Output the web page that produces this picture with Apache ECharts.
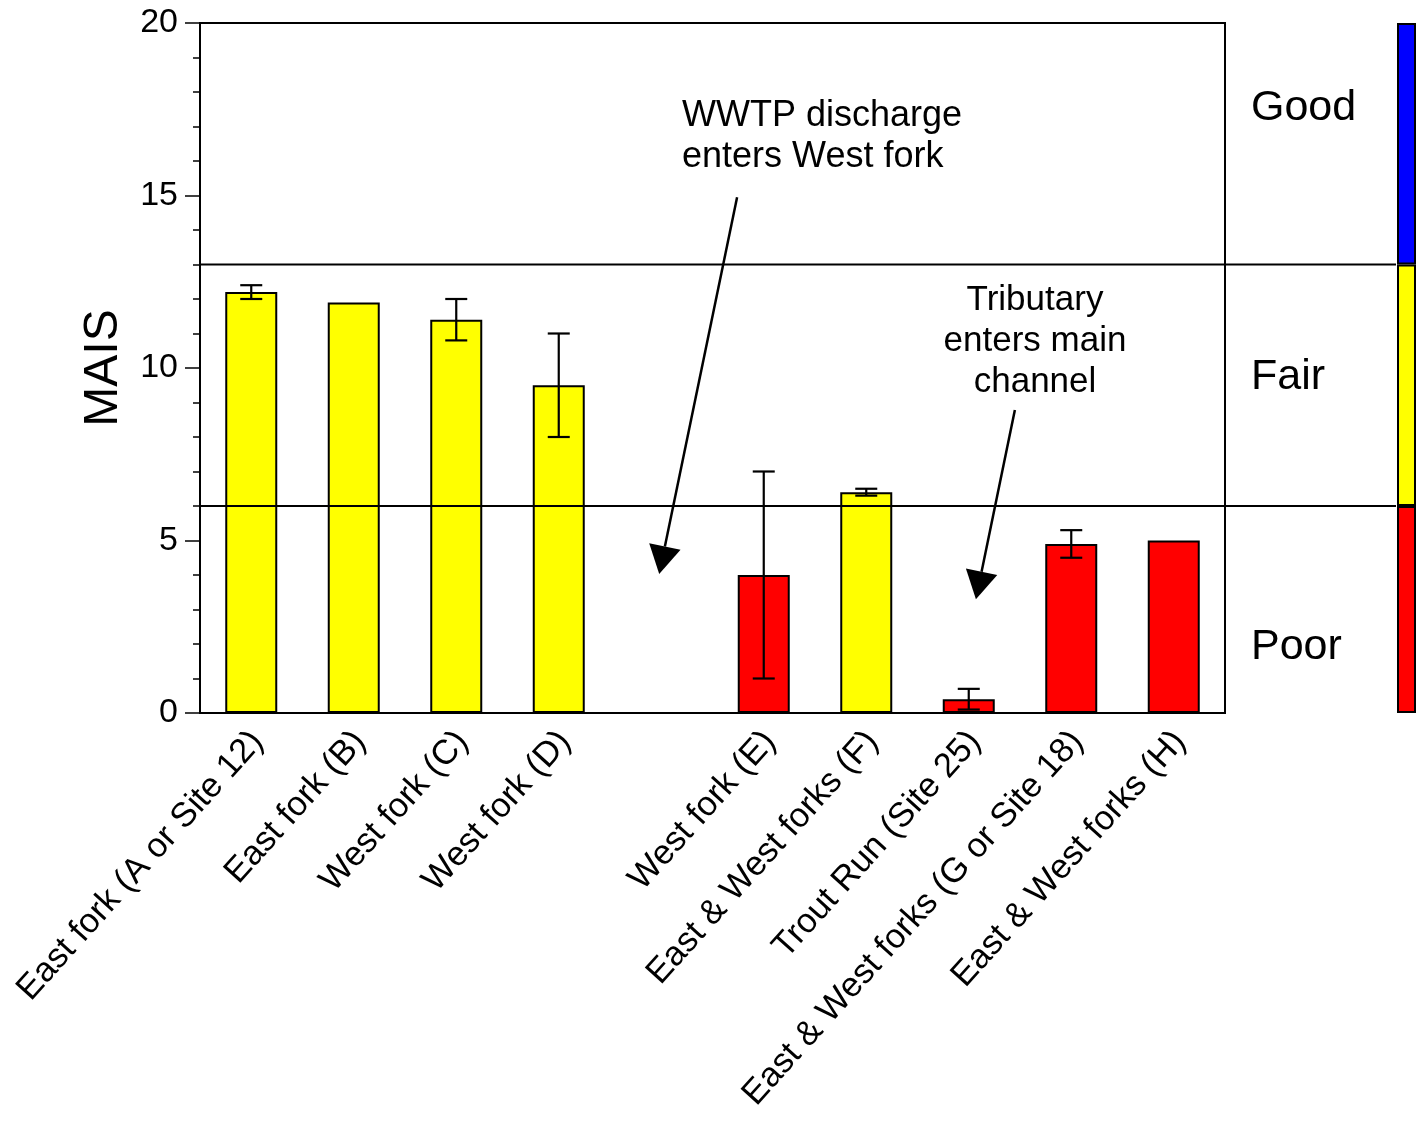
<!DOCTYPE html>
<html>
<head>
<meta charset="utf-8">
<title>MAIS by site</title>
<script src="https://cdn.jsdelivr.net/npm/echarts@6/dist/echarts.min.js"></script>
<style>
  html, body { margin: 0; padding: 0; background: #ffffff; }
  #chart { width: 1416px; height: 1121px; }
</style>
</head>
<body>
<div id="chart"></div>
<script>
// Sampling sites, upstream to downstream (blank slot separates the two reaches)
const sites = [
  'East fork (A or Site 12)',
  'East fork (B)',
  'West fork (C)',
  'West fork (D)',
  '',
  'West fork (E)',
  'East & West forks (F)',
  'Trout Run (Site 25)',
  'East & West forks (G or Site 18)',
  'East & West forks (H)'
];
// Mean MAIS score and its error (half-range) per site
const mais    = [12.2, 11.9, 11.4, 9.5, null, 4.0, 6.4, 0.4, 4.9, 5.0];
const maisErr = [0.2,  0,    0.6,  1.5, null, 3.0, 0.1, 0.3, 0.4, 0];

// Condition classes
const bandNames  = ['Poor', 'Fair', 'Good'];
const bandLimits = [0, 6, 13, 20];
const bandColors = ['#ff0000', '#ffff00', '#0000ff'];

const yTicks = [0, 5, 10, 15, 20];

const FONT = '"Liberation Sans", Arial, Helvetica, sans-serif';
const GRID_TOP = 23, GRID_BOTTOM = 408;

function bandColor(v) {
  for (let b = 0; b < bandNames.length; b++) {
    if (v >= bandLimits[b] && v < bandLimits[b + 1]) return bandColors[b];
  }
  return bandColors[bandColors.length - 1];
}

const chart = echarts.init(document.getElementById('chart'), null, { renderer: 'canvas' });

const barData = mais.map(v => v == null ? '-' : {
  value: v,
  itemStyle: { color: bandColor(v) }
});
const errData = [];
mais.forEach((v, i) => {
  if (v != null && maisErr[i] > 0) errData.push([i, v, maisErr[i]]);
});

// class strip: stacked segments between the class limits
const stripSeries = bandNames.map((name, b) => ({
  name: name,
  type: 'bar',
  xAxisIndex: 3,
  yAxisIndex: 3,
  stack: 'classes',
  barWidth: '100%',
  silent: true,
  data: [bandLimits[b + 1] - bandLimits[b]],
  itemStyle: { color: bandColors[b], borderColor: '#000', borderWidth: 2 }
}));

// class boundary lines run from the y axis to the strip
const boundarySeries = bandLimits.slice(1, -1).map(lim => ({
  type: 'line',
  xAxisIndex: 2,
  yAxisIndex: 2,
  silent: true,
  symbol: 'none',
  z: 5,
  lineStyle: { color: '#000', width: 2 },
  data: [[0, lim], [1, lim]]
}));

const hiddenAxis = { show: false };

chart.setOption({
  animation: false,
  backgroundColor: '#ffffff',
  textStyle: { fontFamily: FONT, color: '#000' },
  grid: [
    // main plot
    { left: 200, right: 191, top: GRID_TOP, bottom: GRID_BOTTOM, show: true,
      borderColor: '#000', borderWidth: 2, backgroundColor: 'transparent' },
    // site label track
    { left: 206, right: 185, top: GRID_TOP, bottom: GRID_BOTTOM },
    // boundary lines
    { left: 200, right: 20, top: GRID_TOP, bottom: GRID_BOTTOM },
    // class strip
    { left: 1397, width: 36, top: GRID_TOP, bottom: GRID_BOTTOM }
  ],
  xAxis: [
    { gridIndex: 0, type: 'category', data: sites,
      axisLine: { show: true, lineStyle: { color: '#000', width: 2 } },
      axisTick: { show: false }, axisLabel: { show: false }, splitLine: { show: false } },
    { gridIndex: 1, type: 'category', data: sites,
      axisLine: { show: false }, axisTick: { show: false },
      axisLabel: { show: true, interval: 0, rotate: 48, margin: 23,
                   fontSize: 34.5, color: '#000', fontFamily: FONT } },
    { gridIndex: 2, type: 'value', min: 0, max: 1, show: false },
    { gridIndex: 3, type: 'category', data: ['class'], show: false }
  ],
  yAxis: [
    { gridIndex: 0, type: 'value', min: 0, max: 20, interval: 5,
      name: 'MAIS', nameLocation: 'middle', nameRotate: 90, nameGap: 72,
      nameTextStyle: { fontSize: 48, color: '#000', fontFamily: FONT },
      axisLine: { show: true, lineStyle: { color: '#000', width: 2 } },
      axisTick: { show: true, length: 15, lineStyle: { color: '#000', width: 1.5 } },
      minorTick: { show: true, splitNumber: 5, length: 7, lineStyle: { color: '#000', width: 1.5 } },
      axisLabel: { fontSize: 34, color: '#000', margin: 22, fontFamily: FONT,
                   padding: [6, 0, 0, 0],
                   formatter: v => yTicks.indexOf(v) >= 0 ? String(v) : '' },
      splitLine: { show: false } },
    Object.assign({ gridIndex: 1, type: 'value', min: 0, max: 20 }, hiddenAxis),
    Object.assign({ gridIndex: 2, type: 'value', min: 0, max: 20 }, hiddenAxis),
    Object.assign({ gridIndex: 3, type: 'value', min: 0, max: 20 }, hiddenAxis)
  ],
  series: [
    {
      name: 'MAIS',
      type: 'bar',
      xAxisIndex: 0,
      yAxisIndex: 0,
      barWidth: 52,
      data: barData,
      itemStyle: { borderColor: '#000', borderWidth: 2 }
    },
    {
      name: 'error',
      type: 'custom',
      xAxisIndex: 0,
      yAxisIndex: 0,
      z: 6,
      data: errData,
      renderItem: function (params, api) {
        const i = api.value(0), v = api.value(1), e = api.value(2);
        const hi = api.coord([i, v + e]);
        const lo = api.coord([i, v - e]);
        const w = 11;
        const st = { stroke: '#000', lineWidth: 2.2 };
        return {
          type: 'group',
          children: [
            { type: 'line', shape: { x1: hi[0], y1: hi[1], x2: lo[0], y2: lo[1] }, style: st },
            { type: 'line', shape: { x1: hi[0] - w, y1: hi[1], x2: hi[0] + w, y2: hi[1] }, style: st },
            { type: 'line', shape: { x1: lo[0] - w, y1: lo[1], x2: lo[0] + w, y2: lo[1] }, style: st }
          ]
        };
      }
    }
  ].concat(boundarySeries, stripSeries)
});

// ---- annotations: arrows given in (site position, MAIS) units ----
function toPx(pos, val) {
  const p0 = chart.convertToPixel({ xAxisIndex: 0 }, sites[0]);
  const p1 = chart.convertToPixel({ xAxisIndex: 0 }, sites[1]);
  const x = p0 + pos * (p1 - p0);
  const y = chart.convertToPixel({ yAxisIndex: 0 }, val);
  return [x, y];
}

function arrow(from, to) {
  const s = toPx(from[0], from[1]);
  const t = toPx(to[0], to[1]);
  const dx = t[0] - s[0], dy = t[1] - s[1];
  const len = Math.sqrt(dx * dx + dy * dy);
  const ux = dx / len, uy = dy / len;
  const headLen = 28, headHalf = 16;
  const bx = t[0] - ux * headLen, by = t[1] - uy * headLen;
  return [
    { type: 'line', shape: { x1: s[0], y1: s[1], x2: bx, y2: by },
      style: { stroke: '#000', lineWidth: 2.5 }, z: 20 },
    { type: 'polygon',
      shape: { points: [[t[0], t[1]],
                        [bx - uy * headHalf, by + ux * headHalf],
                        [bx + uy * headHalf, by - ux * headHalf]] },
      style: { fill: '#000' }, z: 20 }
  ];
}

function note(text, x, y, align, size) {
  return {
    type: 'text', x: x, y: y, z: 20,
    style: { text: text, font: size + 'px ' + FONT, fill: '#000',
             textAlign: align, textVerticalAlign: 'top', lineHeight: 41 }
  };
}

function classLabel(text, y) {
  return {
    type: 'text', x: 1251, y: y, z: 20,
    style: { text: text, font: '43px ' + FONT, fill: '#000',
             textAlign: 'left', textVerticalAlign: 'middle' }
  };
}

const graphics = []
  .concat(arrow([4.74, 14.95], [3.98, 4.03]))
  .concat(arrow([7.45, 8.78], [7.07, 3.30]))
  .concat([
    note('WWTP discharge\nenters West fork', 682, 96, 'left', 36),
    note('Tributary\nenters main\nchannel', 1035, 280, 'center', 35),
    classLabel('Good', 108),
    classLabel('Fair', 377),
    classLabel('Poor', 647)
  ]);

chart.setOption({ graphic: graphics });
</script>
</body>
</html>
